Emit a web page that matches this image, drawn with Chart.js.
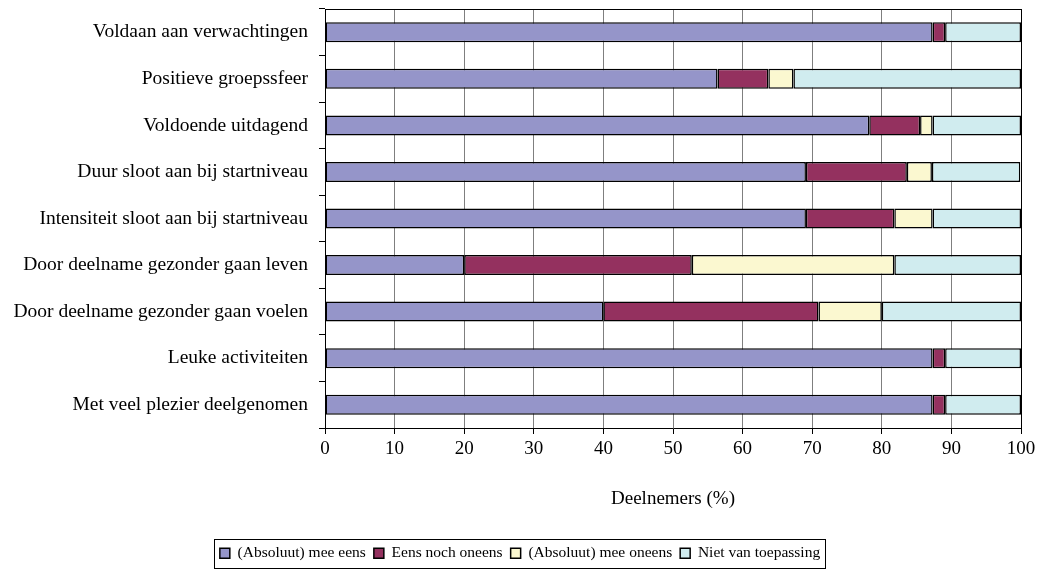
<!DOCTYPE html>
<html>
<head>
<meta charset="utf-8">
<script src="https://cdn.jsdelivr.net/npm/chart.js@4/dist/chart.umd.min.js"></script>
<style>
  html, body { margin: 0; padding: 0; background: #ffffff; }
  #wrap { width: 1040px; height: 572px; }
</style>
</head>
<body>
<div id="wrap"><canvas id="c" width="1040" height="572"></canvas></div>
<script>
// Evaluation statements (top to bottom)
const categories = [
  'Voldaan aan verwachtingen',
  'Positieve groepssfeer',
  'Voldoende uitdagend',
  'Duur sloot aan bij startniveau',
  'Intensiteit sloot aan bij startniveau',
  'Door deelname gezonder gaan leven',
  'Door deelname gezonder gaan voelen',
  'Leuke activiteiten',
  'Met veel plezier deelgenomen'
];

// Share of participants per answer (%)
const meeEens      = [87.3, 56.4, 78.2, 69.1, 69.1, 20.0, 40.0, 87.3, 87.3];
const eensNoch     = [ 1.8,  7.3,  7.3, 14.5, 12.7, 32.7, 30.9,  1.8,  1.8];
const meeOneens    = [ 0.0,  3.6,  1.8,  3.6,  5.5, 29.1,  9.1,  0.0,  0.0];
const nietVanToep  = [10.9, 32.7, 12.7, 12.7, 12.7, 18.2, 20.0, 10.9, 10.9];

const seriesNames = [
  '(Absoluut) mee eens',
  'Eens noch oneens',
  '(Absoluut) mee oneens',
  'Niet van toepassing'
];

const xTickValues = [0, 10, 20, 30, 40, 50, 60, 70, 80, 90, 100];
const xTitle = 'Deelnemers (%)';

const FONT = 'Liberation Serif, Times New Roman, serif';
const PLOT_BOTTOM = 428;
const PAD_BOTTOM = 1;

// Frame around the legend entries
const legendFrame = {
  id: 'legendFrame',
  afterDraw(chart) {
    const lg = chart.legend;
    if (!lg || !lg.legendHitBoxes || !lg.legendHitBoxes.length) return;
    const hb = lg.legendHitBoxes;
    let l = Infinity, r = -Infinity, t = Infinity, b = -Infinity;
    hb.forEach(h => {
      l = Math.min(l, h.left); r = Math.max(r, h.left + h.width);
      t = Math.min(t, h.top); b = Math.max(b, h.top + h.height);
    });
    const ctx = chart.ctx;
    ctx.save();
    ctx.strokeStyle = '#000000';
    ctx.lineWidth = 1;
    ctx.strokeRect(Math.round(l - 6) + 0.5, Math.round(t - 7) + 0.5,
                   Math.round(r - l + 11), Math.round(b - t + 13));
    ctx.restore();
  }
};

// Top edge of the plot area
const plotFrame = {
  id: 'plotFrame',
  afterDatasetsDraw(chart) {
    const a = chart.chartArea;
    const ctx = chart.ctx;
    ctx.save();
    ctx.strokeStyle = '#000000';
    ctx.lineWidth = 1;
    ctx.beginPath();
    ctx.moveTo(a.left, Math.round(a.top) + 0.5);
    ctx.lineTo(a.right, Math.round(a.top) + 0.5);
    ctx.stroke();
    ctx.restore();
  }
};

const colors = ['#9595c9', '#94315f', '#fbf8d0', '#d0ecef'];
const values = [meeEens, eensNoch, meeOneens, nietVanToep];

new Chart(document.getElementById('c'), {
  type: 'bar',
  data: {
    labels: categories,
    datasets: seriesNames.map((name, i) => ({
      label: name,
      data: values[i],
      backgroundColor: colors[i],
      borderColor: '#000000',
      borderWidth: 1.5,
      borderSkipped: false,
      barPercentage: 0.43,
      categoryPercentage: 1.0
    }))
  },
  options: {
    indexAxis: 'y',
    responsive: false,
    animation: false,
    devicePixelRatio: 1,
    layout: { padding: { left: 0, right: 0, top: 9, bottom: PAD_BOTTOM } },
    plugins: {
      tooltip: { enabled: false },
      legend: {
        position: 'bottom',
        labels: {
          font: { family: FONT, size: 15.5 },
          color: '#000000',
          boxWidth: 10,
          boxHeight: 10,
          padding: 8
        }
      }
    },
    scales: {
      x: {
        stacked: true,
        min: 0,
        max: 100,
        afterBuildTicks(scale) {
          scale.ticks = xTickValues.map(v => ({ value: v }));
        },
        afterFit(scale) {
          const lgH = scale.chart.legend ? scale.chart.legend.height : 40;
          scale.height = (572 - PAD_BOTTOM - lgH) - PLOT_BOTTOM;
          scale.paddingLeft = 0;
          scale.paddingRight = 19;
        },
        ticks: {
          font: { family: FONT, size: 19 },
          color: '#000000',
          padding: 4,
          maxRotation: 0
        },
        grid: {
          color: ctx => (ctx.tick && ctx.tick.value === 100) ? '#000000' : '#7f7f7f',
          lineWidth: 1,
          tickColor: '#000000',
          tickLength: 6
        },
        border: { display: true, color: '#000000', width: 1 },
        title: {
          display: true,
          text: xTitle,
          font: { family: FONT, size: 19 },
          color: '#000000',
          padding: { top: 0, bottom: 27 }
        }
      },
      y: {
        stacked: true,
        afterFit(scale) {
          scale.width = 325;
          scale.paddingTop = 0;
          scale.paddingBottom = 0;
        },
        ticks: {
          font: { family: FONT, size: 19.5 },
          color: '#000000',
          padding: 11
        },
        grid: {
          offset: true,
          drawOnChartArea: false,
          tickColor: '#000000',
          tickLength: 6
        },
        border: { display: true, color: '#000000', width: 1 }
      }
    }
  },
  plugins: [legendFrame, plotFrame]
});
</script>
</body>
</html>
